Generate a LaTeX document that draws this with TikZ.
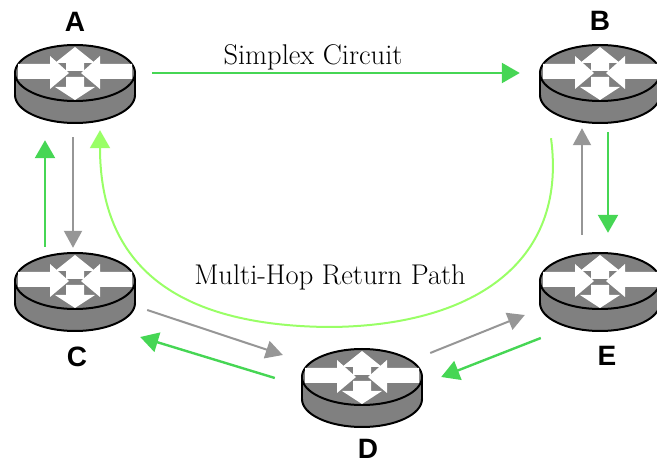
\documentclass[tikz,border=0pt]{standalone}
\usepackage{fontspec}
\usetikzlibrary{arrows.meta,calc}
\newfontfamily\routerfont{Liberation Sans}
\definecolor{linkgreen}{RGB}{70,214,84}
\definecolor{returngreen}{RGB}{153,255,102}
\definecolor{linkgray}{RGB}{150,150,150}
\definecolor{routergray}{RGB}{128,128,128}
\tikzset{
  routerbox/.style={minimum width=120pt, minimum height=78pt, inner sep=0pt},
  routerlabel/.style={inner sep=0pt, font=\routerfont\bfseries\fontsize{28}{28}\selectfont},
  pathlabel/.style={inner sep=0pt, anchor=base, font=\fontsize{28.5}{30}\selectfont},
  greenlink/.style={draw=linkgreen, line width=2.4pt, -{Triangle[length=18pt,width=20pt]}},
  graylink/.style={draw=linkgray, line width=2pt, -{Triangle[length=17pt,width=18pt]}},
  returnlink/.style={draw=returngreen, line width=2pt, -{Triangle[length=18pt,width=20pt]}}
}
\begin{document}
\begin{tikzpicture}[x=1pt,y=-1pt]
\def\iconarrow{white}
\def\drawrouter{%
\fill[routergray] (-60,-11) rectangle (60,11);
\filldraw[fill=routergray, draw=black, line width=2pt] (0,11) ellipse [x radius=60pt, y radius=28pt];
\fill[routergray] (-59,-11) rectangle (59,11);
\draw[line width=2pt] (-60,-11) -- (-60,11);
\draw[line width=2pt] (60,-11) -- (60,11);
\filldraw[fill=routergray, draw=black, line width=2pt] (0,-11) ellipse [x radius=60pt, y radius=28pt];
\begin{scope}[shift={(0,-11)}] % TOP FACE
\fill[\iconarrow] (-57,-9) -- (-25,-9) -- (-25,-17) -- (-6,0) -- (-25,16) -- (-25,6) -- (-57,6) -- cycle;
\fill[\iconarrow] (57,-9) -- (25,-9) -- (25,-17) -- (6,0) -- (25,16) -- (25,6) -- (57,6) -- cycle;
\fill[\iconarrow] (-9,-2) -- (-9,-10) -- (-20,-10) -- (0,-26) -- (20,-10) -- (9,-10) -- (9,-2) -- cycle;
\fill[\iconarrow] (-9,4) -- (9,4) -- (9,14) -- (20,14) -- (0,27) -- (-20,14) -- (-9,14) -- cycle;
\end{scope}}
\useasboundingbox (0,0) rectangle (657,465);

% ROUTERS
\node[routerbox] (A) at (75,84) {};
\node[routerbox] (B) at (600,84) {};
\node[routerbox] (C) at (75,292) {};
\node[routerbox] (D) at (362,388) {};
\node[routerbox] (E) at (600,292) {};
\foreach \n in {A,B,C,D,E} {
\begin{scope}[shift={(\n)}]
\drawrouter
\end{scope}
}

\node[routerlabel] (labelA) at (75,22) {A};
\node[routerlabel] (labelB) at (600,21) {B};
\node[routerlabel] (labelC) at (77,357) {C};
\node[routerlabel] (labelD) at (368,449) {D};
\node[routerlabel] (labelE) at (607,356) {E};

% SIMPLEX CIRCUIT
\draw[greenlink] ($(A.east)+(17,-11)$) -- ($(B.west)+(-20,-11)$);
\node[pathlabel] (simplex) at (313,65) {Simplex Circuit};

% RETURN PATH
\draw[returnlink] ($(B.south)+(-49,15)$) .. controls (568,265) and (470,326) .. (330,327)
  .. controls (175,326) and (100,265) .. ($(A.south)+(25,7)$);
\node[pathlabel] (multihop) at (330,285) {Multi-Hop Return Path};

% HOPS
\draw[graylink] ($(A.south)+(-2,14)$) -- ($(C.north)+(-2,-5)$);
\draw[greenlink] ($(C.north)+(-30,-6)$) -- ($(A.south)+(-30,17)$);
\draw[graylink] ($(E.north)+(-18,-18)$) -- ($(B.south)+(-18,5)$);
\draw[greenlink] ($(B.south)+(8,9)$) -- ($(E.north)+(8,-20)$);
\draw[graylink] ($(C.east)+(12,18)$) -- ($(D.west)+(-19,-33)$);
\draw[greenlink] ($(D.west)+(-27,-10)$) -- ($(C.east)+(5,45)$);
\draw[graylink] ($(D.east)+(8,-35)$) -- ($(E.west)+(-15,23)$);
\draw[greenlink] ($(E.west)+(1,46)$) -- ($(D.east)+(19,-11)$);
\end{tikzpicture}
\end{document}
